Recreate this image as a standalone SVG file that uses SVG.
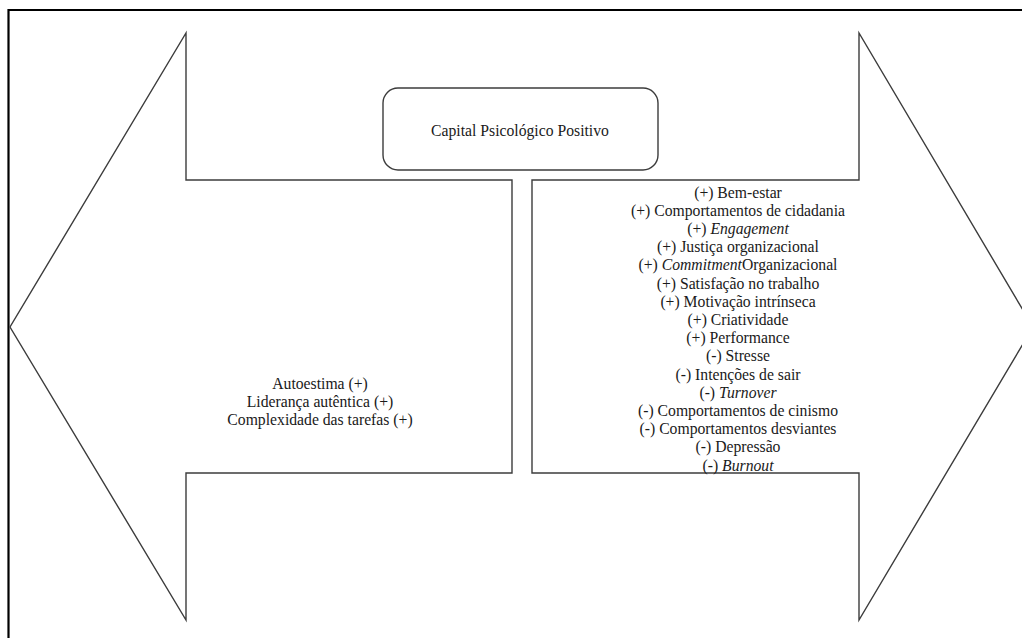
<svg xmlns="http://www.w3.org/2000/svg" width="1022" height="638" viewBox="0 0 1022 638">
  <style>
    .frame { fill: none; stroke: #000; stroke-width: 2.2; }
    .shape { fill: #fff; stroke: #3c3c3c; stroke-width: 1.4; stroke-linejoin: miter; }
    .label { font-family: 'Liberation Serif', 'Times New Roman', 'DejaVu Serif', serif; font-size: 15.7px; fill: #1a1a1a; text-anchor: middle; }
    .em { font-style: italic; }
  </style>
  <rect width="1022" height="638" fill="#fff"/>
  <!-- outer frame -->
  <path class="frame" d="M8.5,640 V10 H1030"/>

  <!-- left arrow: antecedents -->
  <g id="antecedents">
    <path class="shape" d="M512,180 H186 V33 L10,327 L186,620 V473 H512 Z"/>
    <text class="label" x="320" y="388.5">Autoestima (+)</text>
    <text class="label" x="320" y="406.5">Liderança autêntica (+)</text>
    <text class="label" x="320" y="424.5">Complexidade das tarefas (+)</text>
  </g>

  <!-- right arrow: consequences -->
  <g id="consequences">
    <path class="shape" d="M532,180 H859 V33 L1033,327 L859,620 V473 H532 Z"/>
    <text class="label" x="738" y="197.5">(+) Bem-estar</text>
    <text class="label" x="738" y="215.7">(+) Comportamentos de cidadania</text>
    <text class="label" x="738" y="233.9">(+) <tspan class="em">Engagement</tspan></text>
    <text class="label" x="738" y="252.1">(+) Justiça organizacional</text>
    <text class="label" x="738" y="270.3">(+) <tspan class="em">Commitment</tspan>Organizacional</text>
    <text class="label" x="738" y="288.5">(+) Satisfação no trabalho</text>
    <text class="label" x="738" y="306.7">(+) Motivação intrínseca</text>
    <text class="label" x="738" y="324.9">(+) Criatividade</text>
    <text class="label" x="738" y="343.1">(+) Performance</text>
    <text class="label" x="738" y="361.3">(-) Stresse</text>
    <text class="label" x="738" y="379.5">(-) Intenções de sair</text>
    <text class="label" x="738" y="397.7">(-) <tspan class="em">Turnover</tspan></text>
    <text class="label" x="738" y="415.9">(-) Comportamentos de cinismo</text>
    <text class="label" x="738" y="434.1">(-) Comportamentos desviantes</text>
    <text class="label" x="738" y="452.3">(-) Depressão</text>
    <text class="label" x="738" y="470.5">(-) <tspan class="em">Burnout</tspan></text>
  </g>

  <!-- central concept -->
  <g id="capital">
    <rect class="shape" x="383" y="88" width="275" height="82" rx="15" ry="15"/>
    <text class="label" x="520" y="135.5">Capital Psicológico Positivo</text>
  </g>
</svg>
